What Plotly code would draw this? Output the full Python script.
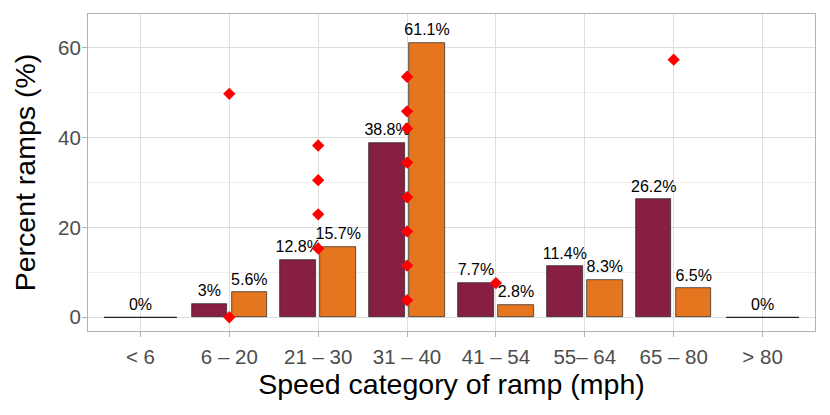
import plotly.graph_objects as go

# ---- data ----
categories = ["< 6", "6 – 20", "21 – 30", "31 – 40", "41 – 54", "55– 64", "65 – 80", "> 80"]
series_a = [0, 3, 12.8, 38.8, 7.7, 11.4, 26.2, 0]
series_b = [None, 5.6, 15.7, 61.1, 2.8, 8.3, 6.5, None]
diamond_cat = ["6 – 20", "6 – 20",
               "21 – 30", "21 – 30", "21 – 30", "21 – 30",
               "31 – 40", "31 – 40", "31 – 40", "31 – 40", "31 – 40", "31 – 40", "31 – 40", "31 – 40",
               "41 – 54", "65 – 80"]
diamond_val = [49.7, 0,
               38.2, 30.5, 22.9, 15.3,
               53.5, 45.8, 42.0, 34.4, 26.7, 19.1, 11.5, 3.8,
               7.6, 57.3]

COL_A = "#861F41"
COL_B = "#E5751F"
FONT = "Liberation Sans, Arial, sans-serif"

idx = list(range(len(categories)))
fig = go.Figure()

# paired bars (categories where both series exist)
pair_idx = [i for i in idx if series_a[i] is not None and series_b[i] is not None]
fig.add_trace(go.Bar(x=pair_idx, y=[series_a[i] for i in pair_idx], offset=-0.425, width=0.4,
                     marker=dict(color=COL_A, line=dict(color="#222222", width=0.7)),
                     name="A", showlegend=False))
fig.add_trace(go.Bar(x=pair_idx, y=[series_b[i] for i in pair_idx], offset=0.025, width=0.4,
                     marker=dict(color=COL_B, line=dict(color="#222222", width=0.7)),
                     name="B", showlegend=False))

# single-series categories (full dodge width); zero-height bars drawn as their outline
single_idx = [i for i in idx if i not in pair_idx]
for i in single_idx:
    v = series_a[i] if series_a[i] is not None else series_b[i]
    fig.add_trace(go.Scatter(x=[i - 0.41, i + 0.41], y=[v, v], mode="lines",
                             line=dict(color="#222222", width=1.2), showlegend=False, hoverinfo="skip"))

def fmt(v):
    return "{:g}%".format(v)

# labels
lx, ly, lt = [], [], []
for i in idx:
    if i in pair_idx:
        lx += [i - 0.225, i + 0.225]
        ly += [series_a[i], series_b[i]]
        lt += [fmt(series_a[i]), fmt(series_b[i])]
    else:
        v = series_a[i] if series_a[i] is not None else series_b[i]
        lx.append(i); ly.append(v); lt.append(fmt(v))
fig.add_trace(go.Scatter(x=lx, y=ly, text=lt, mode="markers+text", textposition="top center",
                         marker=dict(size=4, opacity=0),
                         textfont=dict(family=FONT, size=16, color="#000000"),
                         showlegend=False, hoverinfo="skip"))

# diamonds
fig.add_trace(go.Scatter(x=[categories.index(c) for c in diamond_cat], y=diamond_val, mode="markers",
                         marker=dict(symbol="diamond", size=9.5, color="#FF0000", line=dict(width=0)),
                         showlegend=False))

# page body adds an 8px offset; margins compensate so the panel sits at x 88-815, y 14-331
fig.update_layout(
    width=830, height=415,
    margin=dict(l=80, r=23, t=6, b=92),
    paper_bgcolor="white", plot_bgcolor="white",
    font=dict(family=FONT),
    bargap=0,
)
fig.update_xaxes(
    automargin=False,
    range=[-0.59, 7.59], tickmode="array", tickvals=idx, ticktext=categories,
    showgrid=True, gridcolor="#DEDEDE", gridwidth=1, zeroline=False,
    showline=True, mirror=True, linecolor="#B3B3B3", linewidth=1,
    ticks="outside", ticklen=5, tickcolor="#B3B3B3", tickwidth=1,
    tickfont=dict(family=FONT, size=20.5, color="#4D4D4D"),
    ticklabelstandoff=2,
    title=dict(text="Speed category of ramp (mph)", font=dict(family=FONT, size=28.5, color="#000000"), standoff=7),
)
fig.update_yaxes(
    automargin=False,
    range=[-3.05, 67.45], tickmode="array", tickvals=[0, 20, 40, 60],
    showgrid=True, gridcolor="#DEDEDE", gridwidth=1, zeroline=False,
    minor=dict(tickmode="array", tickvals=[10, 30, 50], showgrid=True, gridcolor="#EEEEEE", gridwidth=1),
    showline=True, mirror=True, linecolor="#B3B3B3", linewidth=1,
    ticks="outside", ticklen=5, tickcolor="#B3B3B3", tickwidth=1,
    tickfont=dict(family=FONT, size=20.5, color="#4D4D4D"),
    ticklabelstandoff=-3,
    title=dict(text="Percent ramps (%)", font=dict(family=FONT, size=28.5, color="#000000"), standoff=14),
)

fig.write_html("out.html")
